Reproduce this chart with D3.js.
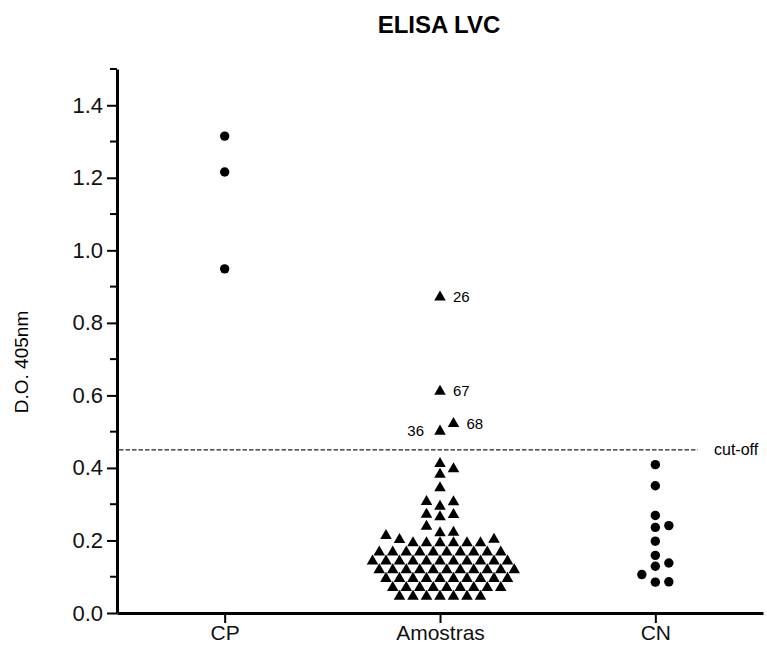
<!DOCTYPE html>
<html>
<head>
<meta charset="utf-8">
<script src="https://cdn.jsdelivr.net/npm/d3@7"></script>
<style>
  html, body { margin: 0; padding: 0; background: #fff; }
  svg { display: block; font-family: "Liberation Sans", Arial, sans-serif; }
</style>
</head>
<body>
<svg id="chart" width="767" height="646"></svg>
<script>
// ---------- data ----------
const categories = ["CP", "Amostras", "CN"];
const cpValues = [1.315, 1.216, 0.949];
const amostrasValues = [
  0.046, 0.046, 0.046, 0.046, 0.046, 0.046, 0.046,
  0.070, 0.070, 0.070, 0.070, 0.070, 0.070, 0.070, 0.070, 0.070,
  0.095, 0.095, 0.095, 0.095, 0.095, 0.095, 0.095, 0.095, 0.095, 0.095,
  0.119, 0.119, 0.119, 0.119, 0.119, 0.119, 0.119, 0.119, 0.119, 0.119, 0.119,
  0.143, 0.143, 0.143, 0.143, 0.143, 0.143, 0.143, 0.143, 0.143, 0.143, 0.143,
  0.168, 0.168, 0.168, 0.168, 0.168, 0.168, 0.168, 0.168, 0.168, 0.168,
  0.193, 0.193, 0.193, 0.193, 0.193, 0.193,
  0.202, 0.203, 0.213, 0.221, 0.222, 0.239, 0.265, 0.271, 0.272, 0.294,
  0.306, 0.307, 0.345, 0.382, 0.397, 0.412,
  0.501, 0.522, 0.611, 0.871
];
const cnValues = [0.409, 0.351, 0.269, 0.241, 0.236, 0.198, 0.159, 0.138, 0.129, 0.106, 0.086, 0.085];
const labeledIds = ["26", "67", "68", "36"];
const labeledValues = [0.871, 0.611, 0.522, 0.501];
const cutoff = 0.45;
const cutoffLabel = "cut-off";
const yTicks = [0, 0.2, 0.4, 0.6, 0.8, 1.0, 1.2, 1.4];
const yMinorTicks = [0.1, 0.3, 0.5, 0.7, 0.9, 1.1, 1.3, 1.5];
const title = "ELISA LVC";
const yLabel = "D.O. 405nm";

// ---------- scales ----------
const svg = d3.select("#chart");
const x = d3.scalePoint().domain(categories).range([117, 763]).padding(0.5);
const y = d3.scaleLinear().domain([0, 1.5]).range([613, 69]);

// ---------- swarm layout (column scatter) ----------
function swarm(values, cx) {
  const half = 6.75, ax = 13.5, ay = 10;
  const pts = values.map(v => ({ v, py: y(v) })).sort((a, b) => a.v - b.v);
  const placed = [];
  for (const p of pts) {
    for (let k = 0; k < 60; k++) {
      const off = k === 0 ? 0 : (k % 2 === 1 ? 1 : -1) * Math.ceil(k / 2) * half;
      const px = cx + off;
      const hit = placed.some(q => {
        const dx = (q.px - px) / ax, dy = (q.py - p.py) / ay;
        return dx * dx + dy * dy < 0.999;
      });
      if (!hit) { p.px = px; break; }
    }
    placed.push(p);
  }
  return placed;
}

const cpPts = swarm(cpValues, x("CP"));
const amPts = swarm(amostrasValues, x("Amostras"));
const cnPts = swarm(cnValues, x("CN"));

// ---------- title ----------
svg.append("text")
  .attr("x", 439).attr("y", 33)
  .attr("text-anchor", "middle")
  .attr("font-size", 24).attr("font-weight", "bold")
  .text(title);

// ---------- y axis ----------
const gy = svg.append("g").attr("transform", `translate(${x.range()[0]},0)`)
  .call(d3.axisLeft(y).tickValues(yTicks).tickFormat(d3.format(".1f"))
    .tickSize(10).tickSizeOuter(0).tickPadding(4));
gy.selectAll("text").attr("font-size", 22).attr("fill", "#111")
  .style("font-family", "'Liberation Sans', Arial, sans-serif");
gy.selectAll(".tick line").attr("stroke-width", 2);
gy.select(".domain").attr("stroke-width", 3);
gy.selectAll(".minor").data(yMinorTicks).enter().append("line")
  .attr("class", "minor")
  .attr("x1", -7).attr("x2", 0)
  .attr("y1", d => y(d)).attr("y2", d => y(d))
  .attr("stroke", "#000").attr("stroke-width", 2);

// ---------- x axis ----------
const gx = svg.append("g").attr("transform", `translate(0,${y(0)})`)
  .call(d3.axisBottom(x).tickSize(10).tickSizeOuter(0).tickPadding(2));
gx.selectAll("text").attr("font-size", 21).attr("fill", "#111")
  .style("font-family", "'Liberation Sans', Arial, sans-serif");
gx.selectAll(".tick line").attr("stroke-width", 2);
gx.select(".domain").attr("stroke-width", 3);

// ---------- y label ----------
svg.append("text")
  .attr("transform", "translate(28,362) rotate(-90)")
  .attr("text-anchor", "middle")
  .attr("font-size", 19)
  .text(yLabel);

// ---------- cut-off line ----------
svg.append("line")
  .attr("x1", 119).attr("x2", 698)
  .attr("y1", y(cutoff)).attr("y2", y(cutoff))
  .attr("stroke", "#222").attr("stroke-width", 1.2)
  .attr("stroke-dasharray", "4.5,2");
svg.append("text")
  .attr("x", 714).attr("y", y(cutoff) + 5)
  .attr("font-size", 16)
  .text(cutoffLabel);

// ---------- points ----------
const dotR = 4.7;
svg.append("g").selectAll("circle").data(cpPts).enter().append("circle")
  .attr("cx", d => d.px).attr("cy", d => d.py).attr("r", dotR).attr("fill", "#000");
svg.append("g").selectAll("circle").data(cnPts).enter().append("circle")
  .attr("cx", d => d.px).attr("cy", d => d.py).attr("r", dotR).attr("fill", "#000");
const tri = d3.symbol().type(d3.symbolTriangle).size(58);
svg.append("g").selectAll("path").data(amPts).enter().append("path")
  .attr("d", tri)
  .attr("transform", d => `translate(${d.px},${d.py})`)
  .attr("fill", "#000");

// ---------- point labels ----------
labeledIds.forEach((id, i) => {
  const p = amPts.find(q => q.v === labeledValues[i]);
  if (!p) return;
  const neighborRight = amPts.some(q => q !== p && q.px > p.px && q.px - p.px < 20 && Math.abs(q.py - p.py) < 12);
  svg.append("text")
    .attr("x", neighborRight ? p.px - 16 : p.px + 13)
    .attr("y", p.py + 5)
    .attr("text-anchor", neighborRight ? "end" : "start")
    .attr("font-size", 15)
    .text(id);
});
</script>
</body>
</html>
